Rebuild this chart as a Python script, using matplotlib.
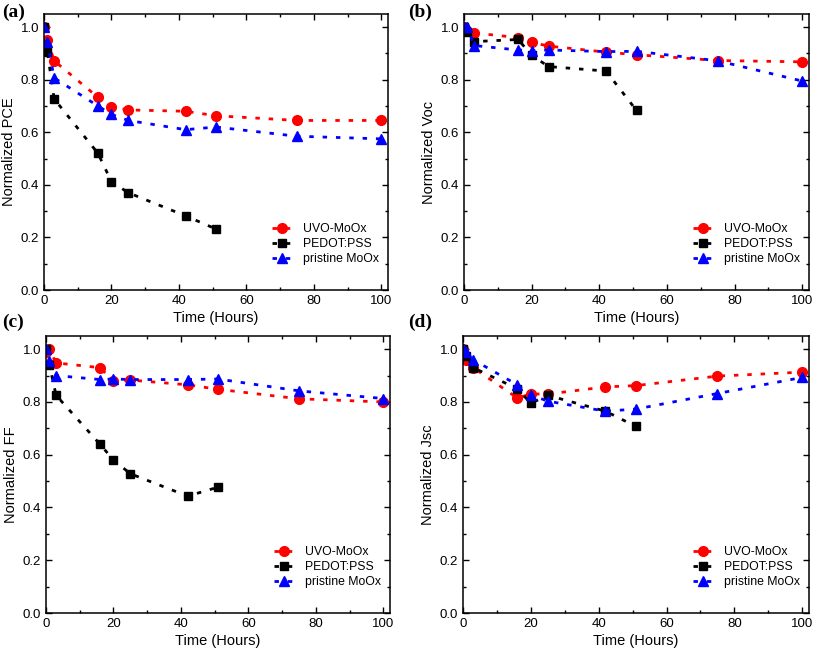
import numpy as np
import matplotlib as mpl; mpl.use('Agg')
import matplotlib.pyplot as plt
from matplotlib.ticker import MultipleLocator

plt.rcParams['font.family'] = ['Liberation Sans', 'DejaVu Sans']

series_names = ['UVO-MoOx', 'PEDOT:PSS', 'pristine MoOx']
t_long = [0, 1, 3, 16, 20, 25, 42, 51, 75, 100]   # UVO-MoOx, pristine MoOx
t_short = [0, 1, 3, 16, 20, 25, 42, 51]           # PEDOT:PSS

# (a) PCE
pce_uvo = [1.0, 0.952, 0.872, 0.733, 0.697, 0.685, 0.680, 0.663, 0.645, 0.645]
pce_pedot = [1.0, 0.907, 0.727, 0.520, 0.412, 0.370, 0.282, 0.232]
pce_pristine = [1.0, 0.945, 0.807, 0.700, 0.668, 0.645, 0.610, 0.620, 0.585, 0.575]
# (b) Voc
voc_uvo = [1.0, 0.985, 0.978, 0.960, 0.942, 0.928, 0.905, 0.895, 0.873, 0.868]
voc_pedot = [1.0, 0.982, 0.945, 0.953, 0.893, 0.850, 0.833, 0.683]
voc_pristine = [1.0, 1.0, 0.930, 0.913, 0.910, 0.913, 0.907, 0.908, 0.872, 0.795]
# (c) FF
ff_uvo = [0.99, 1.0, 0.948, 0.930, 0.880, 0.883, 0.865, 0.848, 0.812, 0.800]
ff_pedot = [1.0, 0.940, 0.825, 0.640, 0.580, 0.528, 0.443, 0.477]
ff_pristine = [1.0, 0.955, 0.900, 0.885, 0.887, 0.885, 0.885, 0.887, 0.842, 0.813]
# (d) Jsc
jsc_uvo = [1.0, 0.960, 0.930, 0.815, 0.830, 0.830, 0.857, 0.862, 0.898, 0.913]
jsc_pedot = [1.0, 0.975, 0.930, 0.850, 0.795, 0.825, 0.765, 0.707]
jsc_pristine = [1.0, 0.990, 0.960, 0.865, 0.827, 0.803, 0.765, 0.773, 0.832, 0.893]

panels = [
    ('(a)', 'Normalized PCE', pce_uvo, pce_pedot, pce_pristine),
    ('(b)', 'Normalized Voc', voc_uvo, voc_pedot, voc_pristine),
    ('(c)', 'Normalized FF', ff_uvo, ff_pedot, ff_pristine),
    ('(d)', 'Normalized Jsc', jsc_uvo, jsc_pedot, jsc_pristine),
]

# axes boxes in pixels: left, right, top, bottom
W, H = 813, 655
boxes = [(44, 388, 14, 290), (464, 809, 14, 290),
         (46, 390, 336, 613), (463, 809, 336, 613)]
letter_pos = [(2, 12), (408, 12), (2, 322), (408, 322)]

fig = plt.figure(figsize=(W / 100, H / 100), dpi=100)

styles = [dict(color='#ff0000', marker='o', ms=7),
          dict(color='black', marker='s', ms=6),
          dict(color='#0000ff', marker='^', ms=7.5)]

for (letter, ylab, uvo, pedot, pris), (l, r, t, b), (lx, ly) in zip(panels, boxes, letter_pos):
    ax = fig.add_axes([l / W, 1 - b / H, (r - l) / W, (b - t) / H])
    for name, x, y, st in zip(series_names, [t_long, t_short, t_long], [uvo, pedot, pris], styles):
        ax.plot(x, y, linestyle=(0, (1.6, 3.2)), lw=2, label=name,
                color=st['color'], marker=st['marker'], ms=st['ms'], mec=st['color'])
    ax.set_xlim(0, 102)
    ax.set_ylim(0, 1.05)
    ax.xaxis.set_major_locator(MultipleLocator(20))
    ax.xaxis.set_minor_locator(MultipleLocator(10))
    ax.yaxis.set_major_locator(MultipleLocator(0.2))
    ax.yaxis.set_minor_locator(MultipleLocator(0.1))
    ax.tick_params(which='both', direction='in', top=True, right=True, labelsize=9.5)
    ax.tick_params(which='major', length=4, width=1)
    ax.tick_params(which='minor', length=2.5, width=1)
    ax.yaxis.set_major_formatter(mpl.ticker.FormatStrFormatter('%.1f'))
    for s in ax.spines.values():
        s.set_linewidth(1.1)
    ax.set_xlabel('Time (Hours)', fontsize=10.5, labelpad=3)
    ax.set_ylabel(ylab, fontsize=10.5, labelpad=3)
    ax.legend(loc='lower right', bbox_to_anchor=(1.0, 0.058), frameon=False, fontsize=8.8,
              handlelength=1.7, handletextpad=0.9, labelspacing=0.25, borderaxespad=0.3)
    fig.text(lx / W, 1 - ly / H, letter, fontsize=14, fontweight='bold',
             family=['Liberation Serif', 'DejaVu Serif'], va='center', ha='left')

fig.savefig('out.png', dpi=100)
